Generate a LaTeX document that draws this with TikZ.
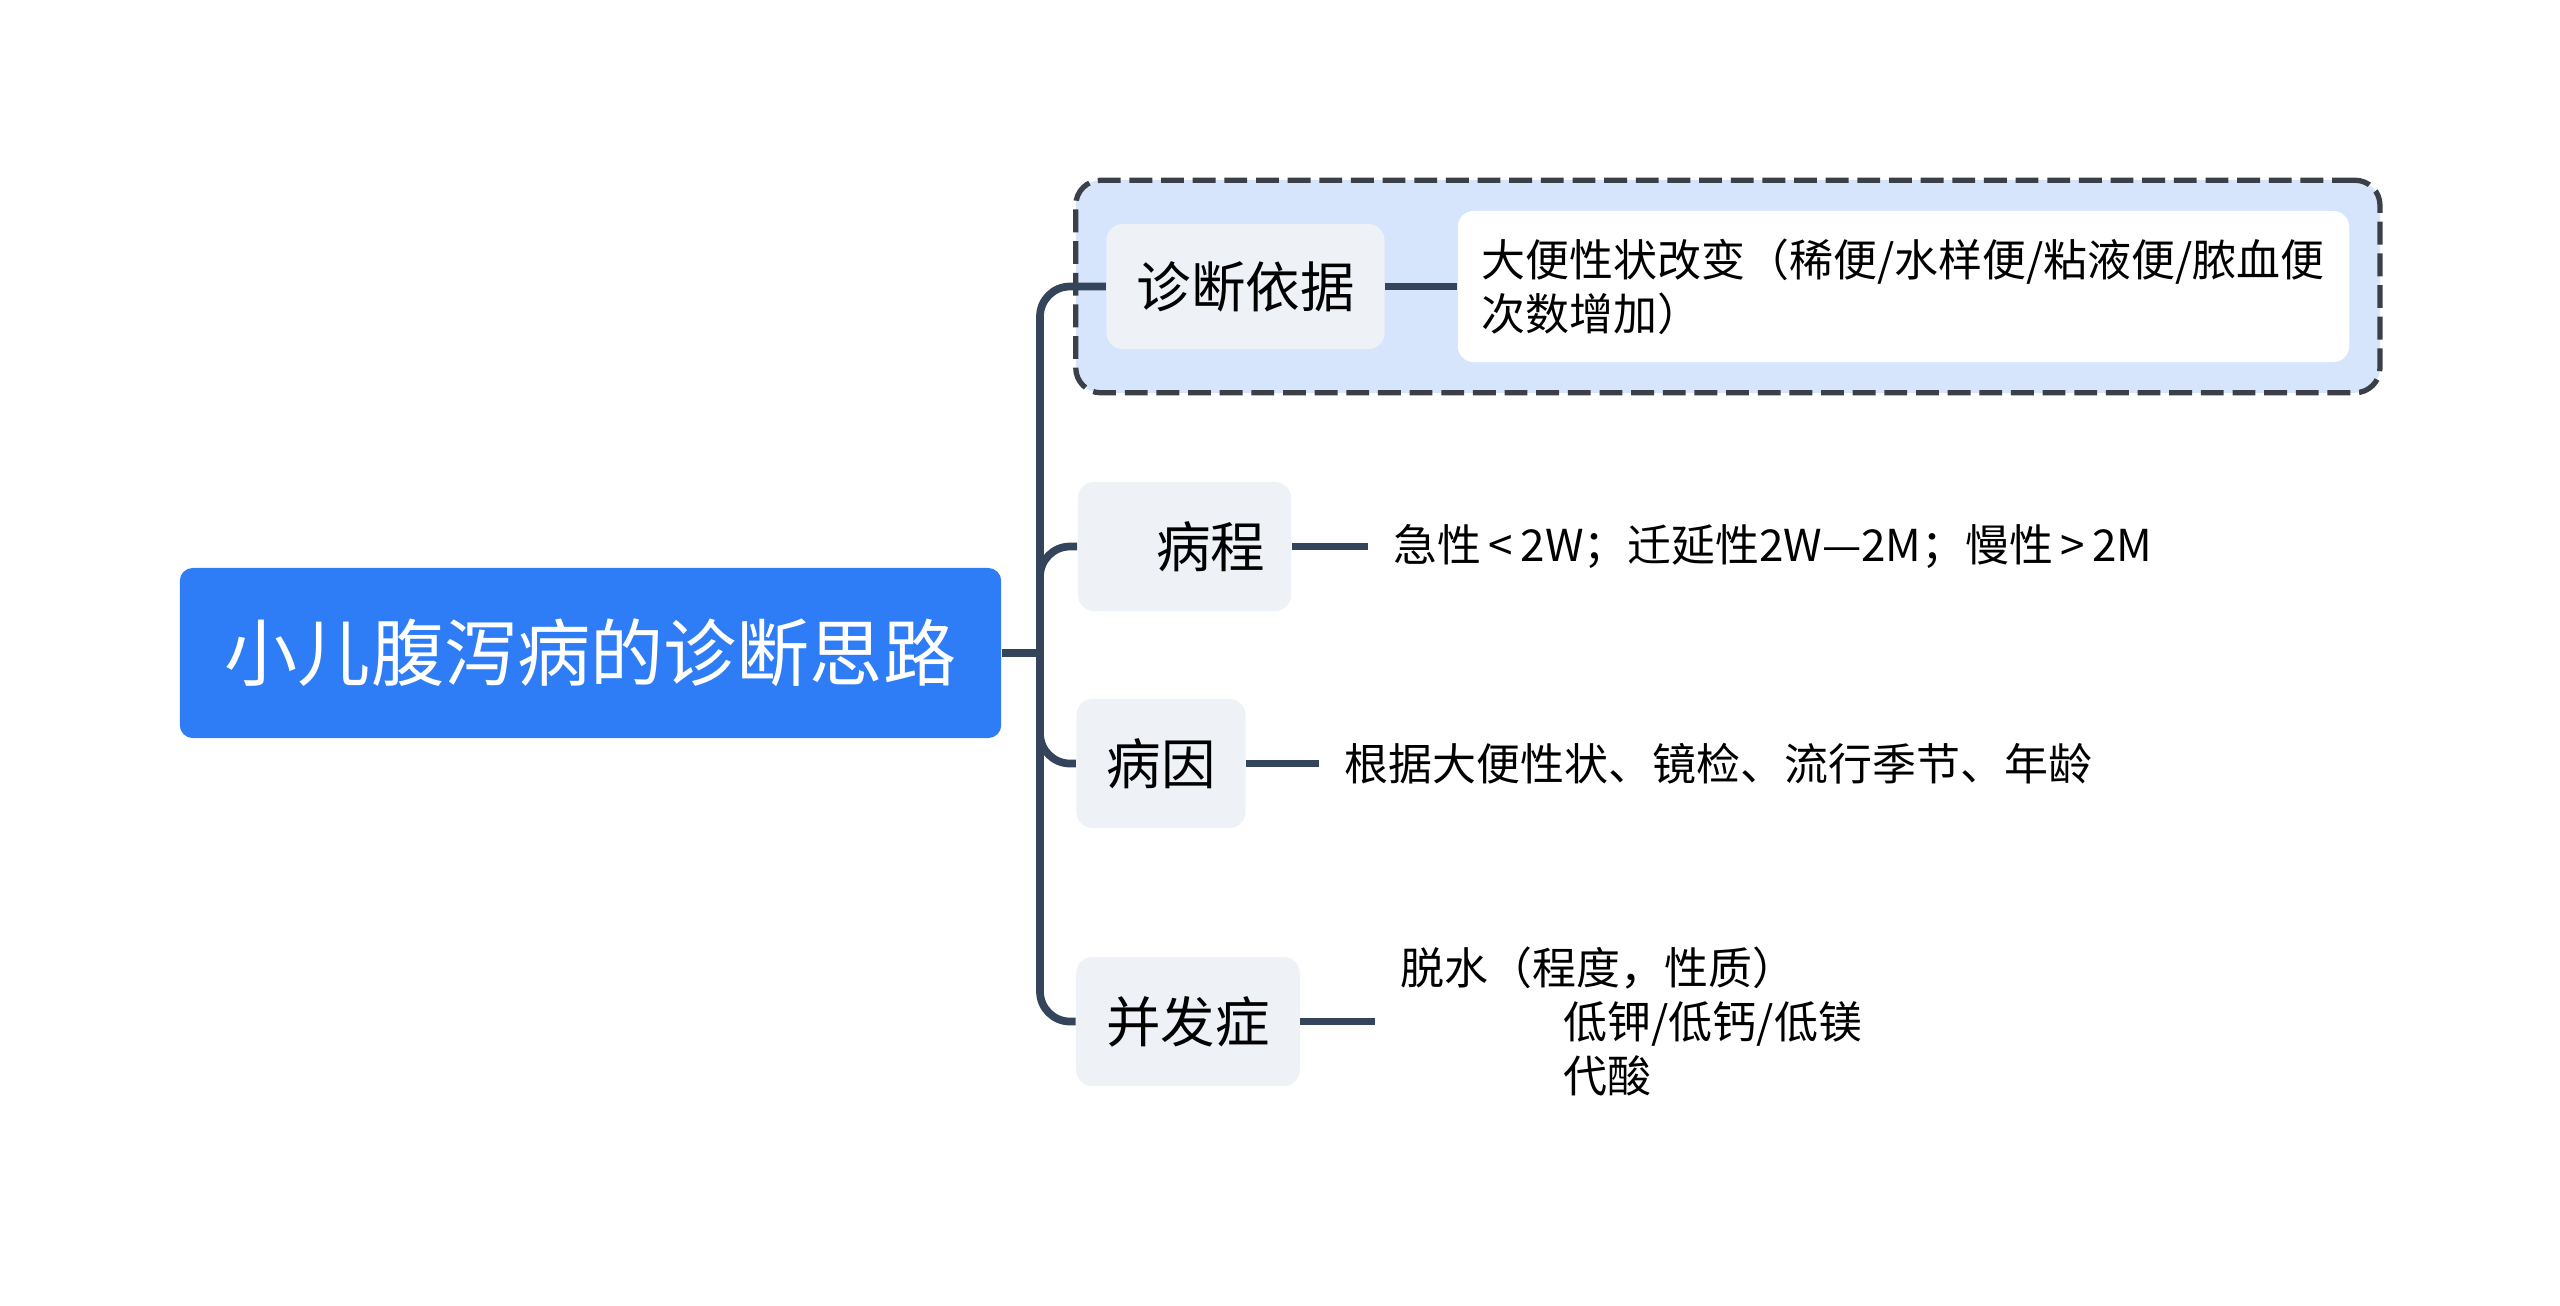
\documentclass[tikz,border=0pt]{standalone}
\usepackage{fontspec}
\setmainfont{Noto Sans CJK SC}
\usetikzlibrary{positioning}
\usetikzlibrary{fit}
\usetikzlibrary{backgrounds}

\definecolor{rootblue}{HTML}{2E7CF6}
\definecolor{branchgray}{HTML}{EEF1F6}
\definecolor{framefill}{HTML}{D6E4FC}
\definecolor{linkdark}{HTML}{34445A}
\definecolor{framedark}{HTML}{3B3F47}

\tikzset{
  rootbox/.style={fill=rootblue, text=white, rounded corners=0.13cm, minimum width=8.21cm, minimum height=1.7cm, font=\fontsize{20.8}{24}\selectfont},
  branchbox/.style={fill=branchgray, rounded corners=0.16cm, minimum height=1.29cm, inner xsep=0.3cm, font=\fontsize{15.5}{18}\selectfont},
  detailtext/.style={font=\fontsize{12.5}{15.3}\selectfont, inner xsep=0.25cm, anchor=west, align=left},
  link/.style={draw=linkdark, line width=2.2pt},
  groupframe/.style={draw=framedark, fill=framefill, line width=1.5pt, dash pattern=on 6.5pt off 2.5pt, rounded corners=0.25cm, inner sep=0.3cm}
}

\begin{document}
\begin{tikzpicture}[x=0.01cm, y=-0.01cm]
                \useasboundingbox (0,0) rectangle (2560,1305);
                % Define the root and the branches
                \node[rootbox] (root) at (590.5,653) {小儿腹泻病的诊断思路};
                \node[branchbox, minimum width=2.75cm, minimum height=1.25cm] (basisbox) at (1245.5,286.5) {诊断依据};
                \node[branchbox, text width=1.61cm, inner xsep=0.26cm, align=right] (course) at (1184.5,546.5) {病程};
                \node[branchbox, minimum width=1.66cm] (cause) at (1161,763.5) {病因};
                \node[branchbox, minimum width=2.2cm] (compl) at (1188,1021.5) {并发症};

                % Define the details
                \node[fill=white, rounded corners=0.16cm, minimum width=8.91cm, minimum height=1.51cm, text width=8.43cm, inner xsep=0.24cm, align=left, font=\fontsize{12.5}{15.3}\selectfont] (basis) at (1903.5,286.5) {大便性状改变（稀便/水样便/粘液便/脓血便\\次数增加）};
                \node[detailtext] (coursetext) at (1368,546.5) {急性\,<\,2W；迁延性2W—2M；慢性\,>\,2M};
                \node[detailtext] (causetext) at (1319,763.5) {根据大便性状、镜检、流行季节、年龄};
                \node[detailtext] (compltext) at (1375,1021.5) {脱水（程度，性质）\\\hspace*{1.63cm}低钾/低钙/低镁\\\hspace*{1.63cm}代酸};

                \begin{scope}[on background layer]
                    \node[groupframe, fit=(basisbox)(basis)] (basisgroup) {};
                \end{scope}

                % Connect everything
                \coordinate (hub) at (1040,653);
                \draw[link] (root.east) -- (hub);
                \foreach \branch in {basisbox, course, cause, compl}
                    \draw[link, rounded corners=0.3cm] (hub) |- (\branch.west);
                \draw[link] (basisbox.east) -- (basis.west);
                \foreach \branch/\detail in {course/coursetext, cause/causetext, compl/compltext}
                    \draw[link] (\branch.east) -- (\detail.west);
\end{tikzpicture}
\end{document}
